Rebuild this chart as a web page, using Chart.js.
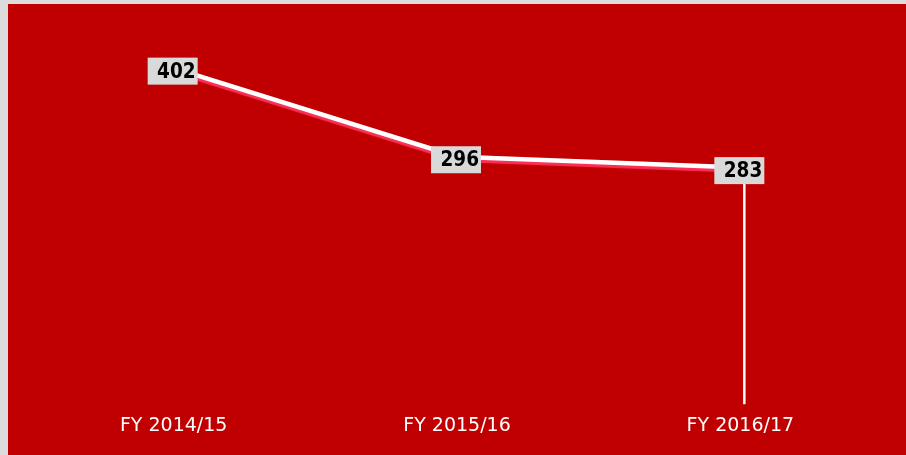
<!DOCTYPE html>
<html>
<head>
<meta charset="utf-8">
<script src="https://cdn.jsdelivr.net/npm/chart.js@4.4.1/dist/chart.umd.min.js"></script>
<style>
  html, body { margin: 0; padding: 0; background: #dcdcdc; }
  #wrap { position: absolute; left: 8px; top: 4px; width: 898px; height: 451px; background: #c00000; }
</style>
</head>
<body>
<div id="wrap"><canvas id="myChart" width="898" height="451"></canvas></div>
<script>
// values
const years = ['FY 2014/15', 'FY 2015/16', 'FY 2016/17'];
const counts = [402, 296, 283];

// gray boxed value labels + drop line on the last point
const valueLabels = {
  id: 'valueLabels',
  beforeDatasetDraw(chart) {
    const ctx = chart.ctx;
    ctx.save();
    ctx.shadowColor = 'rgba(255, 50, 90, 0.95)';
    ctx.shadowOffsetY = 3;
    ctx.shadowBlur = 1;
  },
  afterDatasetDraw(chart) {
    chart.ctx.restore();
  },
  afterDatasetsDraw(chart) {
    const ctx = chart.ctx;
    const pts = chart.getDatasetMeta(0).data;
    const last = pts[pts.length - 1];

    ctx.save();
    ctx.strokeStyle = '#ffffff';
    ctx.lineWidth = 2.5;
    ctx.beginPath();
    ctx.moveTo(last.x + 4, last.y);
    ctx.lineTo(last.x + 4, chart.chartArea.bottom);
    ctx.stroke();

    ctx.textBaseline = 'middle';
    ctx.textAlign = 'right';
    pts.forEach((p, i) => {
      const w = 50, h = 27;
      const cx = p.x - 1, cy = p.y + 3;
      const x0 = cx - w / 2, y0 = cy - h / 2;
      ctx.fillStyle = '#d9d9d9';
      ctx.fillRect(x0, y0, w, h);
      // slightly condensed bold digits
      ctx.save();
      ctx.translate(x0 + w - 2, cy + 1);
      ctx.scale(0.88, 1);
      ctx.font = 'bold 21px "DejaVu Sans"';
      ctx.fillStyle = '#000000';
      ctx.fillText(String(counts[i]), 0, 0);
      ctx.restore();
    });
    ctx.restore();
  }
};

new Chart(document.getElementById('myChart'), {
  type: 'line',
  data: {
    labels: years,
    datasets: [{
      data: counts,
      borderColor: '#ffffff',
      borderWidth: 4.5,
      pointRadius: 0,
      tension: 0,
      fill: false
    }]
  },
  options: {
    responsive: false,
    animation: false,
    events: [],
    layout: { padding: { left: 24, right: 24, top: 24, bottom: 8 } },
    plugins: { legend: { display: false }, tooltip: { enabled: false } },
    scales: {
      x: {
        offset: true,
        grid: { display: false, drawTicks: false },
        border: { display: false },
        ticks: { color: '#ffffff', padding: 10, font: { family: 'DejaVu Sans', size: 19 } }
      },
      y: {
        display: false,
        min: 0,
        max: 450
      }
    }
  },
  plugins: [valueLabels]
});
</script>
</body>
</html>
